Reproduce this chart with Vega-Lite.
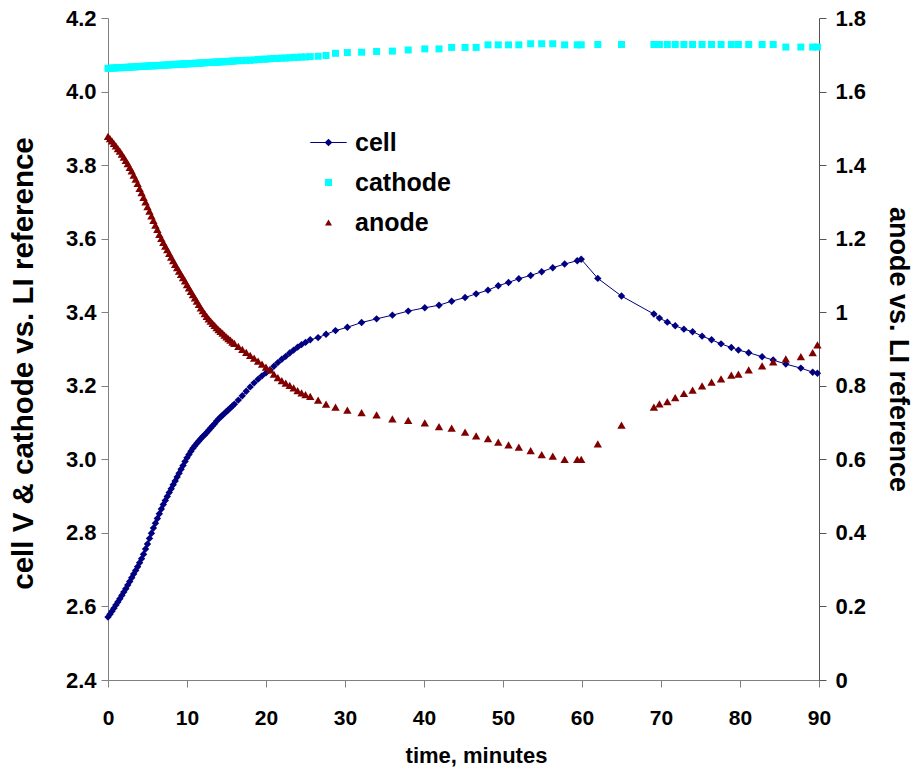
{
  "$schema": "https://vega.github.io/schema/vega-lite/v6.json",
  "width": 711,
  "height": 662,
  "autosize": "none",
  "padding": {"left": 108, "top": 18, "right": 95, "bottom": 94},
  "background": "white",
  "config": {
    "view": {"stroke": null},
    "font": "Liberation Sans",
    "axis": {
      "grid": false,
      "domainColor": "#808080",
      "tickColor": "#808080",
      "tickSize": 7,
      "labelColor": "black",
      "labelFontWeight": "bold",
      "titleColor": "black",
      "titleFontWeight": "bold",
      "labelFont": "Liberation Sans",
      "titleFont": "Liberation Sans"
    }
  },
  "datasets": {
    "run": [
      {"t": 0, "cell": 2.571, "cathode": 4.063, "anode": 1.478},
      {"t": 0.25, "cell": 2.579, "cathode": 4.063, "anode": 1.472},
      {"t": 0.5, "cell": 2.587, "cathode": 4.064, "anode": 1.466},
      {"t": 0.75, "cell": 2.595, "cathode": 4.064, "anode": 1.459},
      {"t": 1, "cell": 2.604, "cathode": 4.064, "anode": 1.452},
      {"t": 1.25, "cell": 2.612, "cathode": 4.065, "anode": 1.445},
      {"t": 1.5, "cell": 2.621, "cathode": 4.065, "anode": 1.438},
      {"t": 1.75, "cell": 2.630, "cathode": 4.065, "anode": 1.430},
      {"t": 2, "cell": 2.639, "cathode": 4.065, "anode": 1.422},
      {"t": 2.25, "cell": 2.648, "cathode": 4.066, "anode": 1.413},
      {"t": 2.5, "cell": 2.658, "cathode": 4.066, "anode": 1.404},
      {"t": 2.75, "cell": 2.668, "cathode": 4.066, "anode": 1.394},
      {"t": 3, "cell": 2.678, "cathode": 4.067, "anode": 1.384},
      {"t": 3.25, "cell": 2.688, "cathode": 4.067, "anode": 1.373},
      {"t": 3.5, "cell": 2.698, "cathode": 4.067, "anode": 1.362},
      {"t": 3.75, "cell": 2.708, "cathode": 4.068, "anode": 1.350},
      {"t": 4, "cell": 2.719, "cathode": 4.068, "anode": 1.337},
      {"t": 4.25, "cell": 2.730, "cathode": 4.068, "anode": 1.325},
      {"t": 4.5, "cell": 2.742, "cathode": 4.069, "anode": 1.312},
      {"t": 4.75, "cell": 2.756, "cathode": 4.069, "anode": 1.300},
      {"t": 5, "cell": 2.770, "cathode": 4.069, "anode": 1.287},
      {"t": 5.25, "cell": 2.785, "cathode": 4.070, "anode": 1.275},
      {"t": 5.5, "cell": 2.799, "cathode": 4.070, "anode": 1.262},
      {"t": 5.75, "cell": 2.813, "cathode": 4.070, "anode": 1.250},
      {"t": 6, "cell": 2.826, "cathode": 4.070, "anode": 1.237},
      {"t": 6.25, "cell": 2.839, "cathode": 4.071, "anode": 1.225},
      {"t": 6.5, "cell": 2.852, "cathode": 4.071, "anode": 1.212},
      {"t": 6.75, "cell": 2.865, "cathode": 4.071, "anode": 1.201},
      {"t": 7, "cell": 2.877, "cathode": 4.072, "anode": 1.190},
      {"t": 7.25, "cell": 2.888, "cathode": 4.072, "anode": 1.180},
      {"t": 7.5, "cell": 2.899, "cathode": 4.072, "anode": 1.170},
      {"t": 7.75, "cell": 2.910, "cathode": 4.073, "anode": 1.160},
      {"t": 8, "cell": 2.920, "cathode": 4.073, "anode": 1.150},
      {"t": 8.25, "cell": 2.931, "cathode": 4.073, "anode": 1.140},
      {"t": 8.5, "cell": 2.941, "cathode": 4.074, "anode": 1.130},
      {"t": 8.75, "cell": 2.952, "cathode": 4.074, "anode": 1.121},
      {"t": 9, "cell": 2.962, "cathode": 4.074, "anode": 1.112},
      {"t": 9.25, "cell": 2.973, "cathode": 4.075, "anode": 1.103},
      {"t": 9.5, "cell": 2.983, "cathode": 4.075, "anode": 1.094},
      {"t": 9.75, "cell": 2.994, "cathode": 4.075, "anode": 1.085},
      {"t": 10, "cell": 3.004, "cathode": 4.075, "anode": 1.075},
      {"t": 10.25, "cell": 3.013, "cathode": 4.076, "anode": 1.066},
      {"t": 10.5, "cell": 3.022, "cathode": 4.076, "anode": 1.057},
      {"t": 10.75, "cell": 3.030, "cathode": 4.076, "anode": 1.048},
      {"t": 11, "cell": 3.037, "cathode": 4.077, "anode": 1.039},
      {"t": 11.25, "cell": 3.044, "cathode": 4.077, "anode": 1.030},
      {"t": 11.5, "cell": 3.050, "cathode": 4.077, "anode": 1.021},
      {"t": 11.75, "cell": 3.056, "cathode": 4.078, "anode": 1.012},
      {"t": 12, "cell": 3.062, "cathode": 4.078, "anode": 1.004},
      {"t": 12.25, "cell": 3.067, "cathode": 4.078, "anode": 0.996},
      {"t": 12.5, "cell": 3.073, "cathode": 4.079, "anode": 0.989},
      {"t": 12.75, "cell": 3.079, "cathode": 4.079, "anode": 0.982},
      {"t": 13, "cell": 3.085, "cathode": 4.079, "anode": 0.976},
      {"t": 13.25, "cell": 3.091, "cathode": 4.080, "anode": 0.970},
      {"t": 13.5, "cell": 3.097, "cathode": 4.080, "anode": 0.964},
      {"t": 13.75, "cell": 3.104, "cathode": 4.080, "anode": 0.958},
      {"t": 14, "cell": 3.110, "cathode": 4.080, "anode": 0.953},
      {"t": 14.25, "cell": 3.115, "cathode": 4.081, "anode": 0.948},
      {"t": 14.5, "cell": 3.120, "cathode": 4.081, "anode": 0.943},
      {"t": 14.75, "cell": 3.125, "cathode": 4.081, "anode": 0.938},
      {"t": 15, "cell": 3.130, "cathode": 4.082, "anode": 0.933},
      {"t": 15.25, "cell": 3.135, "cathode": 4.082, "anode": 0.928},
      {"t": 15.5, "cell": 3.140, "cathode": 4.082, "anode": 0.924},
      {"t": 15.75, "cell": 3.145, "cathode": 4.083, "anode": 0.919},
      {"t": 16, "cell": 3.150, "cathode": 4.083, "anode": 0.915},
      {"t": 16.5, "cell": 3.161, "cathode": 4.084, "anode": 0.907},
      {"t": 17, "cell": 3.173, "cathode": 4.084, "anode": 0.899},
      {"t": 17.5, "cell": 3.185, "cathode": 4.085, "anode": 0.891},
      {"t": 18, "cell": 3.197, "cathode": 4.085, "anode": 0.883},
      {"t": 18.5, "cell": 3.208, "cathode": 4.086, "anode": 0.875},
      {"t": 19, "cell": 3.218, "cathode": 4.087, "anode": 0.867},
      {"t": 19.5, "cell": 3.227, "cathode": 4.088, "anode": 0.859},
      {"t": 20, "cell": 3.235, "cathode": 4.088, "anode": 0.851},
      {"t": 20.5, "cell": 3.243, "cathode": 4.089, "anode": 0.843},
      {"t": 21, "cell": 3.253, "cathode": 4.090, "anode": 0.832},
      {"t": 21.5, "cell": 3.263, "cathode": 4.090, "anode": 0.822},
      {"t": 22, "cell": 3.272, "cathode": 4.091, "anode": 0.814},
      {"t": 22.5, "cell": 3.280, "cathode": 4.091, "anode": 0.807},
      {"t": 23, "cell": 3.289, "cathode": 4.092, "anode": 0.801},
      {"t": 23.5, "cell": 3.297, "cathode": 4.093, "anode": 0.794},
      {"t": 24, "cell": 3.305, "cathode": 4.093, "anode": 0.787},
      {"t": 24.5, "cell": 3.312, "cathode": 4.094, "anode": 0.781},
      {"t": 25, "cell": 3.318, "cathode": 4.094, "anode": 0.776},
      {"t": 25.6, "cell": 3.325, "cathode": 4.095, "anode": 0.771},
      {"t": 26.6, "cell": 3.331, "cathode": 4.096, "anode": 0.761},
      {"t": 27.6, "cell": 3.340, "cathode": 4.098, "anode": 0.750},
      {"t": 28.8, "cell": 3.350, "cathode": 4.104, "anode": 0.742},
      {"t": 30.3, "cell": 3.359, "cathode": 4.106, "anode": 0.734},
      {"t": 32.1, "cell": 3.372, "cathode": 4.107, "anode": 0.727},
      {"t": 34.0, "cell": 3.382, "cathode": 4.109, "anode": 0.721},
      {"t": 36.0, "cell": 3.392, "cathode": 4.110, "anode": 0.710},
      {"t": 38.0, "cell": 3.403, "cathode": 4.113, "anode": 0.706},
      {"t": 40.1, "cell": 3.412, "cathode": 4.116, "anode": 0.699},
      {"t": 41.9, "cell": 3.419, "cathode": 4.116, "anode": 0.689},
      {"t": 43.5, "cell": 3.430, "cathode": 4.120, "anode": 0.685},
      {"t": 45.2, "cell": 3.440, "cathode": 4.120, "anode": 0.674},
      {"t": 46.6, "cell": 3.450, "cathode": 4.120, "anode": 0.664},
      {"t": 48.1, "cell": 3.460, "cathode": 4.127, "anode": 0.656},
      {"t": 49.4, "cell": 3.472, "cathode": 4.127, "anode": 0.647},
      {"t": 50.7, "cell": 3.481, "cathode": 4.127, "anode": 0.639},
      {"t": 52.0, "cell": 3.491, "cathode": 4.127, "anode": 0.633},
      {"t": 53.5, "cell": 3.500, "cathode": 4.130, "anode": 0.624},
      {"t": 54.9, "cell": 3.510, "cathode": 4.130, "anode": 0.613},
      {"t": 56.3, "cell": 3.521, "cathode": 4.130, "anode": 0.609},
      {"t": 57.8, "cell": 3.531, "cathode": 4.127, "anode": 0.600},
      {"t": 59.4, "cell": 3.540, "cathode": 4.127, "anode": 0.600},
      {"t": 59.9, "cell": 3.544, "cathode": 4.127, "anode": 0.600},
      {"t": 62.0, "cell": 3.492, "cathode": 4.128, "anode": 0.642},
      {"t": 65.0, "cell": 3.444, "cathode": 4.128, "anode": 0.693},
      {"t": 69.1, "cell": 3.395, "cathode": 4.128, "anode": 0.742},
      {"t": 69.8, "cell": 3.384, "cathode": 4.128, "anode": 0.751},
      {"t": 70.8, "cell": 3.373, "cathode": 4.128, "anode": 0.757},
      {"t": 71.8, "cell": 3.363, "cathode": 4.128, "anode": 0.768},
      {"t": 72.9, "cell": 3.354, "cathode": 4.128, "anode": 0.779},
      {"t": 74.0, "cell": 3.347, "cathode": 4.128, "anode": 0.788},
      {"t": 75.2, "cell": 3.335, "cathode": 4.128, "anode": 0.800},
      {"t": 76.4, "cell": 3.325, "cathode": 4.128, "anode": 0.810},
      {"t": 77.6, "cell": 3.314, "cathode": 4.128, "anode": 0.819},
      {"t": 78.9, "cell": 3.304, "cathode": 4.128, "anode": 0.829},
      {"t": 79.8, "cell": 3.297, "cathode": 4.128, "anode": 0.832},
      {"t": 81.1, "cell": 3.290, "cathode": 4.128, "anode": 0.843},
      {"t": 82.8, "cell": 3.279, "cathode": 4.128, "anode": 0.854},
      {"t": 84.2, "cell": 3.270, "cathode": 4.128, "anode": 0.865},
      {"t": 85.8, "cell": 3.259, "cathode": 4.121, "anode": 0.873},
      {"t": 87.7, "cell": 3.248, "cathode": 4.121, "anode": 0.879},
      {"t": 89.2, "cell": 3.237, "cathode": 4.121, "anode": 0.890},
      {"t": 89.8, "cell": 3.234, "cathode": 4.121, "anode": 0.911}
    ]
  },
  "data": {"name": "run"},
  "encoding": {
    "x": {
      "field": "t",
      "type": "quantitative",
      "scale": {"domain": [0, 90], "nice": false, "zero": false},
      "axis": {
        "values": [0, 10, 20, 30, 40, 50, 60, 70, 80, 90],
        "title": "time, minutes",
        "labelFontSize": 21,
        "labelPadding": 20,
        "labelFlush": false,
        "titleFontSize": 22,
        "titlePadding": 17,
        "titleX": 368
      }
    }
  },
  "layer": [
    {
      "transform": [{"fold": ["cell", "cathode"], "as": ["series", "v"]}],
      "encoding": {
        "y": {
          "field": "v",
          "type": "quantitative",
          "scale": {"domain": [2.4, 4.2], "nice": false, "zero": false},
          "axis": {
            "orient": "left",
            "values": [2.4, 2.6, 2.8, 3.0, 3.2, 3.4, 3.6, 3.8, 4.0, 4.2],
            "format": ".1f",
            "title": "cell V & cathode vs. LI reference",
            "labelFontSize": 22,
            "labelPadding": 5,
            "labelFlush": false,
            "titleFontSize": 29.5,
            "titlePadding": 27,
            "titleY": 345
          }
        }
      },
      "layer": [
        {
          "transform": [{"filter": "datum.series === 'cell'"}],
          "mark": {"type": "line", "color": "#000080", "strokeWidth": 1}
        },
        {
          "transform": [{"filter": "datum.series === 'cell'"}],
          "mark": {"type": "point", "shape": "diamond", "filled": true, "color": "#000080", "opacity": 1, "size": 55}
        },
        {
          "transform": [{"filter": "datum.series === 'cathode'"}],
          "mark": {"type": "point", "shape": "square", "filled": true, "color": "#00FFFF", "opacity": 1, "size": 49}
        },
        {
          "mark": {"type": "point", "filled": true, "opacity": 0, "size": 49},
          "encoding": {
            "color": {
              "field": "series",
              "type": "nominal",
              "scale": {"domain": ["cell", "cathode", "anode"], "range": ["#000080", "#00FFFF", "#800000"]},
              "legend": {
                "title": null,
                "orient": "none",
                "legendX": 208,
                "legendY": 112,
                "padding": 0,
                "rowPadding": 14,
                "labelOffset": 14,
                "symbolSize": 49,
                "labelFont": "Liberation Sans",
                "labelFontSize": 25,
                "labelFontWeight": "bold",
                "labelColor": "black",
                "symbolOpacity": 1
              }
            },
            "shape": {
              "field": "series",
              "type": "nominal",
              "scale": {
                "domain": ["cell", "cathode", "anode"],
                "range": ["M-5.2,-0.14L5.2,-0.14L5.2,0.14L-5.2,0.14Z M0,-1.1L1.1,0L0,1.1L-1.1,0Z", "square", "triangle-up"]
              },
              "legend": {
                "title": null,
                "orient": "none",
                "legendX": 208,
                "legendY": 112,
                "padding": 0,
                "rowPadding": 14,
                "labelOffset": 14,
                "symbolSize": 49,
                "labelFont": "Liberation Sans",
                "labelFontSize": 25,
                "labelFontWeight": "bold",
                "labelColor": "black",
                "symbolOpacity": 1
              }
            }
          }
        }
      ]
    },
    {
      "mark": {"type": "point", "shape": "triangle-up", "filled": true, "color": "#800000", "opacity": 1, "size": 70},
      "encoding": {
        "y": {
          "field": "anode",
          "type": "quantitative",
          "scale": {"domain": [0, 1.8], "nice": false, "zero": false},
          "axis": {
            "orient": "right",
            "values": [0, 0.2, 0.4, 0.6, 0.8, 1, 1.2, 1.4, 1.6, 1.8],
            "format": ".1~f",
            "title": "anode vs. LI reference",
            "domainColor": "#555555",
            "tickColor": "#555555",
            "labelFontSize": 22,
            "labelPadding": 9,
            "labelFlush": false,
            "titleFontSize": 27,
            "titlePadding": 18
          }
        }
      }
    }
  ],
  "resolve": {"scale": {"y": "independent"}}
}
